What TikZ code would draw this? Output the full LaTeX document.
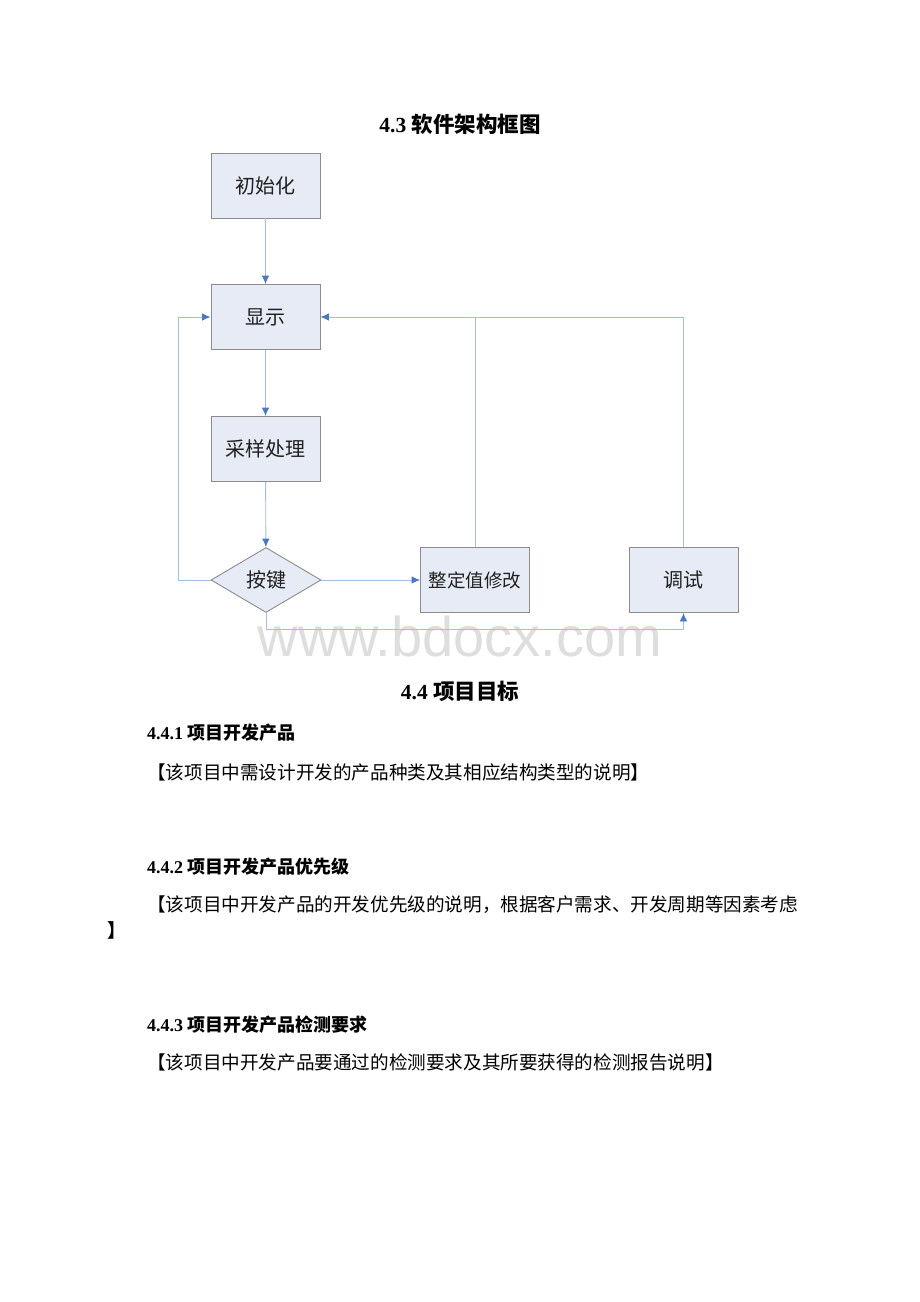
\documentclass[tikz,border=0pt]{standalone}
\usepackage{fontspec}
\setmainfont{Liberation Serif}
\newfontfamily\cjk{Noto Sans CJK SC}
\newfontfamily\wmfont{Liberation Sans}
\usetikzlibrary{shapes.geometric,arrows.meta}
\definecolor{boxfill}{HTML}{E6EBF5}
\definecolor{boxline}{HTML}{8C8C8C}
\definecolor{linec}{HTML}{A4BDE0}
\definecolor{arrowc}{HTML}{4A78C4}
\definecolor{txt}{HTML}{202020}
\begin{document}
\begin{tikzpicture}[x=1pt,y=-1pt,
  box/.style={draw=boxline, line width=0.9pt, fill=boxfill, minimum width=109pt, minimum height=65pt, inner sep=0pt, text=txt, font=\cjk\fontsize{20}{20}\selectfont},
  dia/.style={diamond, draw=boxline, line width=0.9pt, fill=boxfill, minimum width=110pt, minimum height=65pt, inner sep=0pt, text=txt, font=\cjk\fontsize{20}{20}\selectfont},
  wire/.style={draw=linec, line width=0.9pt},
  conn/.style={wire, -{Latex[length=8.5pt,width=7.5pt,color=arrowc]}},
  head/.style={font=\fontsize{21.5}{24}\selectfont\bfseries, inner sep=0pt},
  sub/.style={font=\fontsize{18}{20}\selectfont\bfseries, anchor=west, inner sep=0pt},
  body/.style={font=\cjk\fontsize{18.6}{22}\selectfont, anchor=west, inner sep=0pt}
]
\useasboundingbox (0,0) rectangle (920,1302);
\fill[white] (0,0) rectangle (920,1302);

% watermark
\node[font=\wmfont\fontsize{56}{60}\selectfont, text=black!13, inner sep=0pt] (wm) at (460,636) {www.bdocx.com};

% headings
\node[head] (h43) at (460,124) {4.3 {\cjk 软件架构框图}};

% diagram nodes
\node[box] (init) at (265.5,185.5) {初始化};
\node[box] (disp) at (265.5,317) {显示};
\node[box] (samp) at (265.5,449) {采样处理};
\node[dia] (key) at (266,580) {按键};
\node[box, font=\cjk\fontsize{18.5}{18.5}\selectfont] (mod) at (475,580) {整定值修改};
\node[box] (dbg) at (683.5,580) {调试};

\coordinate (lx) at (178.5,580);
\coordinate (by) at (266,629);

% connectors
\draw[conn] (init) -- (disp);
\draw[conn] (disp) -- (samp);
\draw[conn] (samp) -- (key);
\draw[conn] (key.east) -- (mod.west);
\draw[conn] (key.west) -- (lx) |- (disp.west);
\draw[conn] (mod.north) |- (disp.east);
\draw[wire] (dbg.north) |- (mod.north |- disp.east);
\draw[conn] (key.south) -- (by) -| (dbg.south);

% section 4.4
\node[head] (h44) at (460,691) {4.4 {\cjk 项目目标}};
\node[sub] (h441) at (147,733) {4.4.1 {\cjk 项目开发产品}};
\node[body] (t441) at (147,772) {【该项目中需设计开发的产品种类及其相应结构类型的说明】};
\node[sub] (h442) at (147,867) {4.4.2 {\cjk 项目开发产品优先级}};
\node[body] (t442) at (147,905) {【该项目中开发产品的开发优先级的说明，根据客户需求、开发周期等因素考虑};
\node[body, font=\cjk\bfseries\fontsize{18.6}{22}\selectfont] (t442b) at (107,930) {】};
\node[sub] (h443) at (147,1025) {4.4.3 {\cjk 项目开发产品检测要求}};
\node[body] (t443) at (147,1062) {【该项目中开发产品要通过的检测要求及其所要获得的检测报告说明】};
\end{tikzpicture}
\end{document}
